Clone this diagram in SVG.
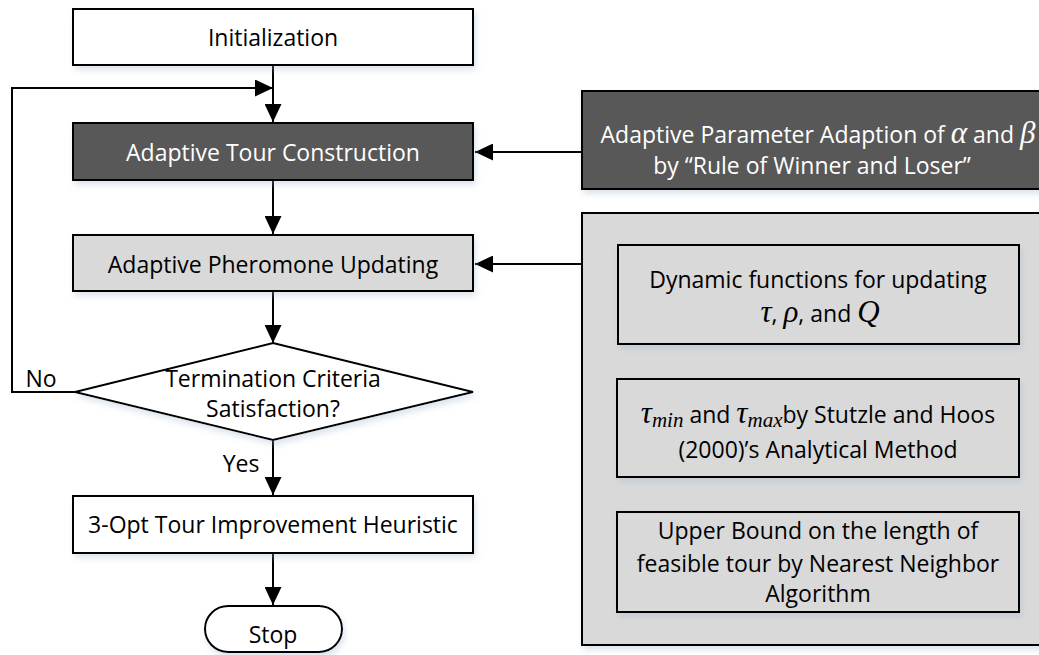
<svg xmlns="http://www.w3.org/2000/svg" width="1039" height="655" viewBox="0 0 1039 655">
<style>
.box{stroke:#000;stroke-width:2}
.t{font-family:"Open Sans","Liberation Sans",sans-serif;font-size:23px;fill:#000;text-anchor:middle}
.w{fill:#fff}
.m{font-family:"Liberation Serif","DejaVu Serif",serif;font-style:italic;font-size:31px}
.s{font-family:"Liberation Serif","DejaVu Serif",serif;font-style:italic;font-size:21px}
.c{stroke:#000;stroke-width:2;fill:none}
</style>
<defs>
<marker id="ah" markerUnits="userSpaceOnUse" markerWidth="19" markerHeight="17" refX="18" refY="8.5" orient="auto">
<path d="M0,0 L18,8.5 L0,17 z" fill="#000"/>
</marker>
<filter id="sh" x="-5%" y="-10%" width="115%" height="130%">
<feDropShadow dx="2" dy="4" stdDeviation="3" flood-color="#9db4cf" flood-opacity="0.35"/>
</filter>
</defs>
<g id="connectors">
<line class="c" x1="273" y1="65" x2="273" y2="122" marker-end="url(#ah)"/>
<polyline class="c" points="75,392 12,392 12,88 273,88" marker-end="url(#ah)"/>
<line class="c" x1="273" y1="180" x2="273" y2="234" marker-end="url(#ah)"/>
<line class="c" x1="273" y1="291" x2="273" y2="343" marker-end="url(#ah)"/>
<line class="c" x1="273" y1="440" x2="273" y2="495" marker-end="url(#ah)"/>
<line class="c" x1="273" y1="553" x2="273" y2="605" marker-end="url(#ah)"/>
<line class="c" x1="582" y1="152" x2="475" y2="152" marker-end="url(#ah)"/>
<line class="c" x1="582" y1="264" x2="475" y2="264" marker-end="url(#ah)"/>
<text class="t" x="41" y="387">No</text>
<text class="t" x="241" y="472">Yes</text>
</g>
<g id="init">
<rect class="box" x="73" y="9" width="400" height="56" fill="#fff" filter="url(#sh)"/>
<text class="t" x="273" y="46">Initialization</text>
</g>
<g id="tour">
<rect class="box" x="73" y="123" width="400" height="57" fill="#595959" filter="url(#sh)"/>
<text class="t w" x="273" y="161">Adaptive Tour Construction</text>
</g>
<g id="pheromone">
<rect class="box" x="73" y="235" width="400" height="56" fill="#d9d9d9" filter="url(#sh)"/>
<text class="t" x="273" y="273">Adaptive Pheromone Updating</text>
</g>
<g id="decision">
<polygon class="box" points="273,343 473,392 273,440 75,392" fill="#fff" filter="url(#sh)"/>
<text class="t" x="273" y="387">Termination Criteria</text>
<text class="t" x="273" y="417">Satisfaction?</text>
</g>
<g id="threeopt">
<rect class="box" x="73" y="496" width="400" height="57" fill="#fff" filter="url(#sh)"/>
<text class="t" x="273" y="533">3-Opt Tour Improvement Heuristic</text>
</g>
<g id="stop">
<rect class="box" x="205" y="606" width="137" height="46" rx="23" fill="#fff" filter="url(#sh)"/>
<text class="t" x="273" y="643">Stop</text>
</g>
<g id="adaption">
<rect class="box" x="582" y="91" width="470" height="98" fill="#595959" filter="url(#sh)"/>
<text class="t w" x="818" y="143">Adaptive Parameter Adaption of <tspan class="m">α</tspan> and <tspan class="m">β</tspan></text>
<text class="t w" x="812" y="174">by “Rule of Winner and Loser”</text>
</g>
<g id="pheromone-details">
<rect class="box" x="582" y="213" width="470" height="432" fill="#d9d9d9" filter="url(#sh)"/>
</g>
<g id="dynamic">
<rect class="box" x="618" y="245" width="401" height="99" fill="#d9d9d9" filter="url(#sh)"/>
<text class="t" x="818" y="288">Dynamic functions for updating</text>
<text class="t" x="820" y="322"><tspan class="m">τ</tspan>, <tspan class="m">ρ</tspan>, and <tspan class="m">Q</tspan></text>
</g>
<g id="tau-bounds">
<rect class="box" x="617" y="379" width="402" height="98" fill="#d9d9d9" filter="url(#sh)"/>
<text class="t" x="818" y="423"><tspan class="m">τ</tspan><tspan class="s" dy="4">min</tspan><tspan dy="-4"> and </tspan><tspan class="m">τ</tspan><tspan class="s" dy="4">max</tspan><tspan dy="-4">by Stutzle and Hoos</tspan></text>
<text class="t" x="818" y="458">(2000)’s Analytical Method</text>
</g>
<g id="upper-bound">
<rect class="box" x="617" y="512" width="402" height="100" fill="#d9d9d9" filter="url(#sh)"/>
<text class="t" x="818" y="539">Upper Bound on the length of</text>
<text class="t" x="818" y="572">feasible tour by Nearest Neighbor</text>
<text class="t" x="818" y="602">Algorithm</text>
</g>
</svg>
